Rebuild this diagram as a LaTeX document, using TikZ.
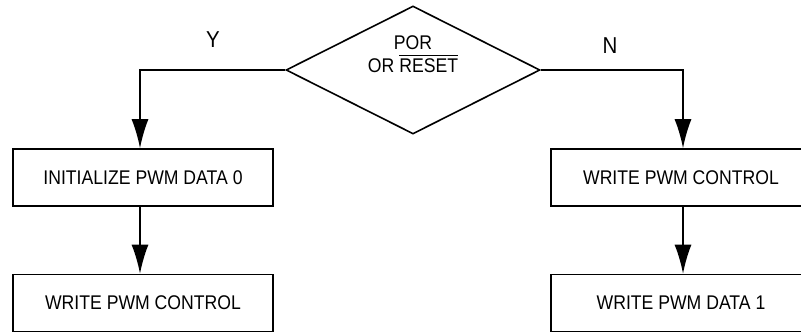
\documentclass[tikz,border=0pt]{standalone}
\usepackage{fontspec}
\setmainfont{Liberation Sans}[FakeStretch=0.89]
\usetikzlibrary{shapes.geometric,arrows.meta}

\begin{document}
\begin{tikzpicture}[x=0.5pt, y=-0.5pt, >={Latex[length=14.5pt,width=8.5pt]}, line width=0.8pt,
    box/.style={draw, minimum width=130pt, minimum height=28.5pt, inner sep=0pt, font=\fontsize{9.9}{11.5}\selectfont},
    decision/.style={draw, diamond, minimum width=127pt, minimum height=64pt, inner sep=0pt},
    yn/.style={font=\fontsize{11.5}{13}\selectfont}]

    \useasboundingbox (0,0) rectangle (801,332);

    % 1. 判断 POR / RESET
    \node[decision] (por) at (413,70) {};
    \node[align=center, font=\fontsize{9.9}{11.5}\selectfont] (portext) at (413,54) {POR\\OR $\overline{\mbox{RESET}}$};

    % 2. 左右两列方框
    \node[box] (init) at (143,177.5) {INITIALIZE PWM DATA 0};
    \node[box] (ctlL) at (143,303) {WRITE PWM CONTROL};
    \node[box] (ctlR) at (681,177.5) {WRITE PWM CONTROL};
    \node[box] (data) at (681,303) {WRITE PWM DATA 1};

    % 3. 连线
    \draw[->] (por.west) -| ([xshift=-1.5pt]init.north);
    \draw[->] (por.east) -| ([xshift=1pt]ctlR.north);
    \draw[->] ([xshift=-1.5pt]init.south) -- ([xshift=-1.5pt]ctlL.north);
    \draw[->] ([xshift=1pt]ctlR.south) -- ([xshift=1pt]data.north);

    % 4. Y / N
    \node[yn] (yes) at (213,40) {Y};
    \node[yn] (no) at (610,46) {N};
\end{tikzpicture}
\end{document}
